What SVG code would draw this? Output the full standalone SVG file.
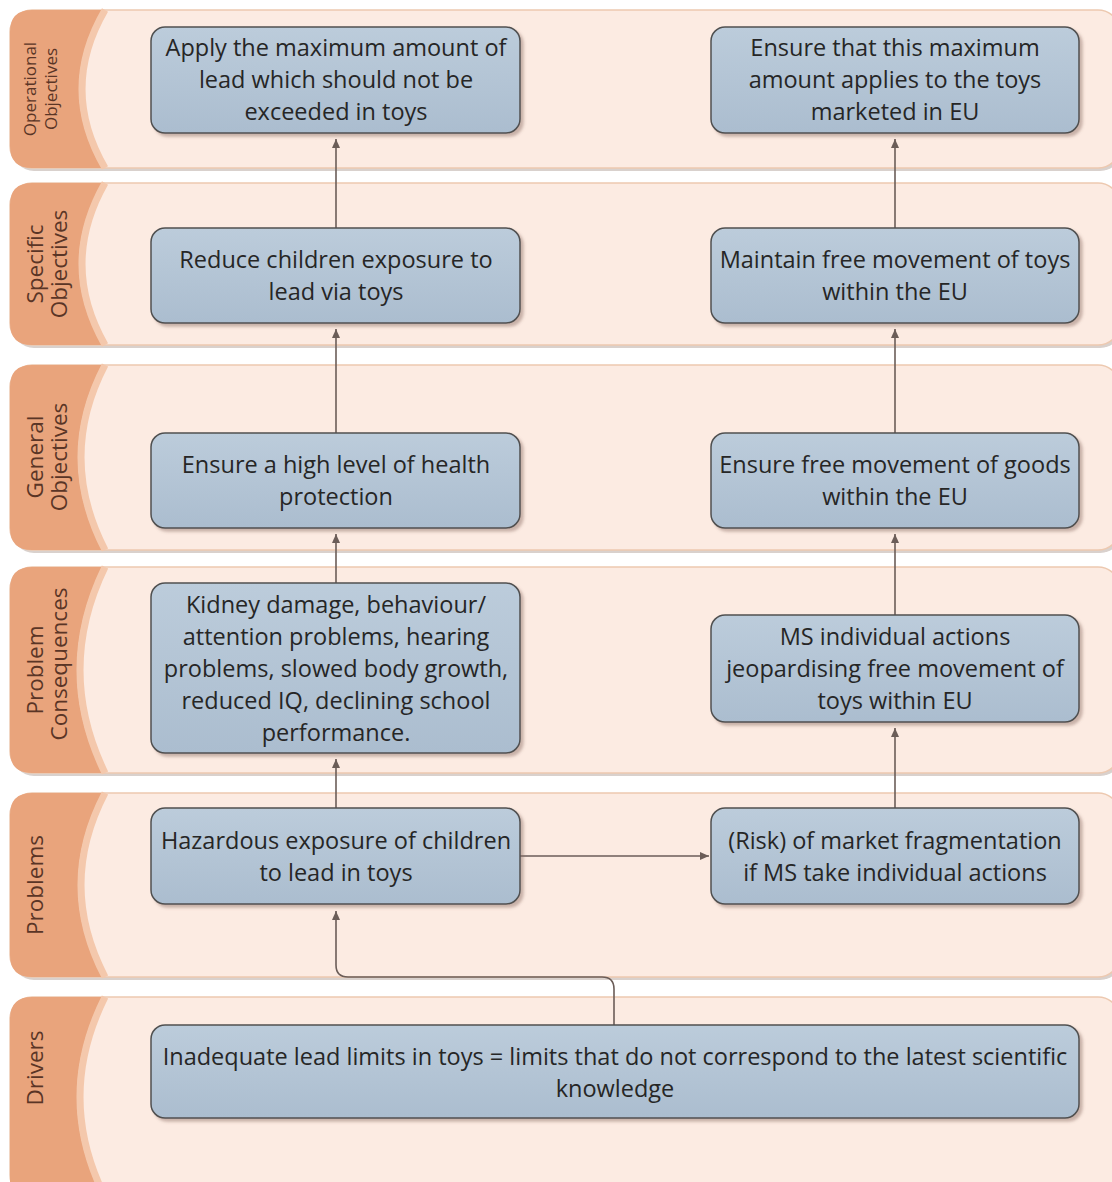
<svg xmlns="http://www.w3.org/2000/svg" width="1112" height="1182" viewBox="0 0 1112 1182">
<defs>
<linearGradient id="boxg" x1="0" y1="0" x2="0" y2="1">
<stop offset="0" stop-color="#BCCCDB"/>
<stop offset="1" stop-color="#ABBDCF"/>
</linearGradient>
<filter id="sh" x="-5%" y="-10%" width="115%" height="130%">
<feDropShadow dx="3" dy="3" stdDeviation="1.5" flood-color="#8a6a60" flood-opacity="0.45"/>
</filter>
<marker id="ah" markerWidth="10" markerHeight="10" refX="9" refY="5" orient="auto" markerUnits="userSpaceOnUse">
<path d="M0,1 L9,5 L0,9 Z" fill="#6b5d58"/>
</marker>
<style>
.band{fill:#FCEBE2;stroke:#EDC9B0;stroke-width:1.5}
.bsh{fill:#D9D1CD}
.tab{fill:#E9A47C}
.halo{fill:none;stroke:#F4C8AC;stroke-width:7}
.lbl{font-family:"Open Sans","Noto Sans",sans-serif;font-size:22.5px;fill:#5a3526;text-anchor:middle}
.box{fill:url(#boxg);stroke:#505050;stroke-width:1.5;filter:url(#sh)}
.t{font-family:"Open Sans","Noto Sans",sans-serif;font-size:23.5px;fill:#262626;text-anchor:middle}
.c{fill:none;stroke:#6b5d58;stroke-width:1.6}
</style>
</defs>

<g id="bands">
<g id="band-operational">
<rect class="bsh" x="12" y="13" width="1110" height="158" rx="22"/>
<rect class="band" x="10" y="10" width="1110" height="158" rx="22"/>
<path class="tab" d="M102,10 L32,10 Q10,10 10,32 L10,146 Q10,168 32,168 L102,168 Q56,89 102,10 Z"/>
<path class="halo" d="M105,10 Q59,89 105,168"/>
<text class="lbl" style="font-size:17px" transform="translate(36,89) rotate(-90)">Operational</text>
<text class="lbl" style="font-size:17px" transform="translate(57,89) rotate(-90)">Objectives</text>
</g>
<g id="band-specific">
<rect class="bsh" x="12" y="186" width="1110" height="162" rx="22"/>
<rect class="band" x="10" y="183" width="1110" height="162" rx="22"/>
<path class="tab" d="M102,183 L32,183 Q10,183 10,205 L10,323 Q10,345 32,345 L102,345 Q56,264 102,183 Z"/>
<path class="halo" d="M105,183 Q59,264 105,345"/>
<text class="lbl" transform="translate(43,264) rotate(-90)">Specific</text>
<text class="lbl" transform="translate(67,264) rotate(-90)">Objectives</text>
</g>
<g id="band-general">
<rect class="bsh" x="12" y="368" width="1110" height="185" rx="22"/>
<rect class="band" x="10" y="365" width="1110" height="185" rx="22"/>
<path class="tab" d="M102,365 L32,365 Q10,365 10,387 L10,528 Q10,550 32,550 L102,550 Q54,457 102,365 Z"/>
<path class="halo" d="M105,365 Q57,457 105,550"/>
<text class="lbl" transform="translate(43,457) rotate(-90)">General</text>
<text class="lbl" transform="translate(67,457) rotate(-90)">Objectives</text>
</g>
<g id="band-consequences">
<rect class="bsh" x="12" y="570" width="1110" height="206" rx="22"/>
<rect class="band" x="10" y="567" width="1110" height="206" rx="22"/>
<path class="tab" d="M102,567 L32,567 Q10,567 10,589 L10,751 Q10,773 32,773 L102,773 Q52,670 102,567 Z"/>
<path class="halo" d="M105,567 Q55,670 105,773"/>
<text class="lbl" transform="translate(43,670) rotate(-90)">Problem</text>
<text class="lbl" transform="translate(67,664) rotate(-90)">Consequences</text>
</g>
<g id="band-problems">
<rect class="bsh" x="12" y="796" width="1110" height="184" rx="22"/>
<rect class="band" x="10" y="793" width="1110" height="184" rx="22"/>
<path class="tab" d="M102,793 L32,793 Q10,793 10,815 L10,955 Q10,977 32,977 L102,977 Q54,885 102,793 Z"/>
<path class="halo" d="M105,793 Q57,885 105,977"/>
<text class="lbl" transform="translate(43,885) rotate(-90)">Problems</text>
</g>
<g id="band-drivers">
<rect class="bsh" x="12" y="1000" width="1110" height="200" rx="22"/>
<rect class="band" x="10" y="997" width="1110" height="200" rx="22"/>
<path class="tab" d="M102,997 L32,997 Q10,997 10,1019 L10,1197 L102,1197 Q52,1097 102,997 Z"/>
<path class="halo" d="M105,997 Q55,1097 105,1197"/>
<text class="lbl" transform="translate(43,1068) rotate(-90)">Drivers</text>
</g>
</g>

<g id="connectors">
<line class="c" x1="336" y1="228" x2="336" y2="139" marker-end="url(#ah)"/>
<line class="c" x1="336" y1="433" x2="336" y2="329" marker-end="url(#ah)"/>
<line class="c" x1="336" y1="583" x2="336" y2="534" marker-end="url(#ah)"/>
<line class="c" x1="336" y1="808" x2="336" y2="759" marker-end="url(#ah)"/>
<line class="c" x1="895" y1="228" x2="895" y2="139" marker-end="url(#ah)"/>
<line class="c" x1="895" y1="433" x2="895" y2="329" marker-end="url(#ah)"/>
<line class="c" x1="895" y1="615" x2="895" y2="534" marker-end="url(#ah)"/>
<line class="c" x1="895" y1="808" x2="895" y2="728" marker-end="url(#ah)"/>
<line class="c" x1="520" y1="856" x2="709" y2="856" marker-end="url(#ah)"/>
<path class="c" d="M614,1025 L614,989 Q614,977 602,977 L348,977 Q336,977 336,965 L336,911" marker-end="url(#ah)"/>
</g>

<g id="node-op-left">
<rect class="box" x="151" y="27" width="369" height="106" rx="14"/>
<text class="t" x="336" y="56">Apply the maximum amount of</text>
<text class="t" x="336" y="88">lead which should not be</text>
<text class="t" x="336" y="120">exceeded in toys</text>
</g>
<g id="node-op-right">
<rect class="box" x="711" y="27" width="368" height="106" rx="14"/>
<text class="t" x="895" y="56">Ensure that this maximum</text>
<text class="t" x="895" y="88">amount applies to the toys</text>
<text class="t" x="895" y="120">marketed in EU</text>
</g>
<g id="node-spec-left">
<rect class="box" x="151" y="228" width="369" height="95" rx="14"/>
<text class="t" x="336" y="268">Reduce children exposure to</text>
<text class="t" x="336" y="300">lead via toys</text>
</g>
<g id="node-spec-right">
<rect class="box" x="711" y="228" width="368" height="95" rx="14"/>
<text class="t" x="895" y="268">Maintain free movement of toys</text>
<text class="t" x="895" y="300">within the EU</text>
</g>
<g id="node-gen-left">
<rect class="box" x="151" y="433" width="369" height="95" rx="14"/>
<text class="t" x="336" y="473">Ensure a high level of health</text>
<text class="t" x="336" y="505">protection</text>
</g>
<g id="node-gen-right">
<rect class="box" x="711" y="433" width="368" height="95" rx="14"/>
<text class="t" x="895" y="473">Ensure free movement of goods</text>
<text class="t" x="895" y="505">within the EU</text>
</g>
<g id="node-pc-left">
<rect class="box" x="151" y="583" width="369" height="170" rx="14"/>
<text class="t" x="336" y="613">Kidney damage, behaviour/</text>
<text class="t" x="336" y="645">attention problems, hearing</text>
<text class="t" x="336" y="677">problems, slowed body growth,</text>
<text class="t" x="336" y="709">reduced IQ, declining school</text>
<text class="t" x="336" y="741">performance.</text>
</g>
<g id="node-pc-right">
<rect class="box" x="711" y="615" width="368" height="107" rx="14"/>
<text class="t" x="895" y="645">MS individual actions</text>
<text class="t" x="895" y="677">jeopardising free movement of</text>
<text class="t" x="895" y="709">toys within EU</text>
</g>
<g id="node-prob-left">
<rect class="box" x="151" y="808" width="369" height="96" rx="14"/>
<text class="t" x="336" y="849">Hazardous exposure of children</text>
<text class="t" x="336" y="881">to lead in toys</text>
</g>
<g id="node-prob-right">
<rect class="box" x="711" y="808" width="368" height="96" rx="14"/>
<text class="t" x="895" y="849">(Risk) of market fragmentation</text>
<text class="t" x="895" y="881">if MS take individual actions</text>
</g>
<g id="node-drivers">
<rect class="box" x="151" y="1025" width="928" height="93" rx="14"/>
<text class="t" x="615" y="1065">Inadequate lead limits in toys = limits that do not correspond to the latest scientific</text>
<text class="t" x="615" y="1097">knowledge</text>
</g>
</svg>
